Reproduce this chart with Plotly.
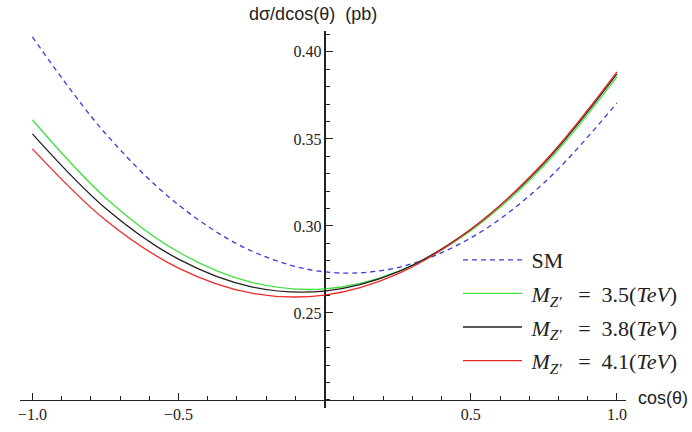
import plotly.graph_objects as go

# cos(theta) sample points
cos_theta = [-1.0, -0.75, -0.5, -0.25, 0.0, 0.25, 0.5, 0.75, 1.0]

# d sigma / d cos(theta) in pb
sm_vals    = [0.4086, 0.3531, 0.3121, 0.2856, 0.2736, 0.2761, 0.2931, 0.3247, 0.3707]
mz35_vals  = [0.3610, 0.3162, 0.2850, 0.2676, 0.2638, 0.2737, 0.2973, 0.3346, 0.3856]
mz38_vals  = [0.3529, 0.3102, 0.2809, 0.2650, 0.2626, 0.2736, 0.2981, 0.3360, 0.3874]
mz41_vals  = [0.3443, 0.3034, 0.2758, 0.2614, 0.2603, 0.2725, 0.2979, 0.3366, 0.3885]

EQ = " \u2002=\u2002"
series_names = [
    "\u2009SM",
    "\u2009<i>M</i><sub><i>Z′</i></sub>" + EQ + "3.5(<i>TeV</i>)",
    "\u2009<i>M</i><sub><i>Z′</i></sub>" + EQ + "3.8(<i>TeV</i>)",
    "\u2009<i>M</i><sub><i>Z′</i></sub>" + EQ + "4.1(<i>TeV</i>)",
]
series_vals = [sm_vals, mz35_vals, mz38_vals, mz41_vals]
series_colors = ["#3a3ad8", "#3ee23e", "#222222", "#ee2a2a"]
series_dash = ["5px,4px", "solid", "solid", "solid"]

x_tickvals = [-1.0, -0.5, 0.5, 1.0]
x_ticktext = ["−1.0", "−0.5", "0.5", "1.0"]
y_tickvals = [0.25, 0.30, 0.35, 0.40]
y_ticktext = ["0.25", "0.30", "0.35", "0.40"]

W, H = 692, 432


def px(x):
    return x / W


def py(y):
    return (H - y) / H


fig = go.Figure()
for i, (name, vals) in enumerate(zip(series_names, series_vals)):
    fig.add_trace(go.Scatter(
        x=cos_theta, y=vals, mode="lines", name=name,
        legendgroup=f"g{i}",
        line=dict(color=series_colors[i], width=1.3, dash=series_dash[i], shape="spline", smoothing=1.0),
    ))

x_range = [-1.0426, 1.032]
y_range = [0.1954, 0.412]
x_dom = [px(18), px(627)]
y_dom = [py(408), py(31)]

tick_font = dict(family="Liberation Serif", size=16, color="#222")

fig.update_layout(
    width=W, height=H,
    margin=dict(l=0, r=0, t=0, b=0),
    paper_bgcolor="white", plot_bgcolor="white",
    showlegend=True,
    legend=dict(
        x=px(458), y=py(239), xanchor="left", yanchor="top",
        bgcolor="rgba(0,0,0,0)", font=dict(family="Liberation Serif", size=22, color="#222"),
        tracegroupgap=2, itemwidth=59,
    ),
    xaxis=dict(
        range=x_range, domain=x_dom, anchor="free",
        position=py(400),
        showgrid=False, zeroline=True, zerolinecolor="#222", zerolinewidth=1,
        showline=True, linecolor="#222", linewidth=1,
        tickmode="array", tickvals=x_tickvals, ticktext=x_ticktext,
        ticks="inside", ticklen=7, tickwidth=1, tickcolor="#222",
        tickfont=tick_font,
        minor=dict(tickmode="linear", tick0=0, dtick=0.1, ticks="inside", ticklen=4, tickcolor="#222", showgrid=False),
    ),
    yaxis=dict(
        range=y_range, domain=y_dom, anchor="free",
        position=px(324),
        showgrid=False, zeroline=False,
        showline=True, linecolor="#222", linewidth=1,
        tickmode="array", tickvals=y_tickvals, ticktext=y_ticktext,
        ticks="inside", ticklen=7, tickwidth=1, tickcolor="#222",
        tickfont=tick_font,
        minor=dict(tickmode="linear", tick0=0, dtick=0.01, ticks="inside", ticklen=4, tickcolor="#222", showgrid=False),
    ),
    annotations=[
        dict(text="dσ/dcos(θ)  (pb)", x=px(246), y=py(14), xref="paper", yref="paper",
             xanchor="left", yanchor="middle", showarrow=False,
             font=dict(family="Liberation Sans", size=18, color="#222")),
        dict(text="cos(θ)", x=px(637), y=py(398), xref="paper", yref="paper",
             xanchor="left", yanchor="middle", showarrow=False,
             font=dict(family="Liberation Sans", size=18, color="#222")),
    ],
)

fig.write_html("out.html", config={"displayModeBar": False},
               post_script="document.body.style.margin='0';")
